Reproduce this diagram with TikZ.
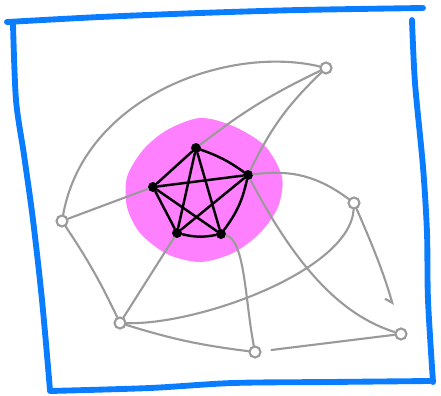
\documentclass[tikz,border=0pt]{standalone}
\usepackage{tikz}
\usetikzlibrary{arrows.meta}

\definecolor{penBlue}{HTML}{0A7CFF}
\definecolor{blobPink}{HTML}{FF80FF}
\definecolor{pencilGray}{HTML}{9A9A9A}

\tikzset{
  frame/.style={penBlue, line width=5pt, line cap=round, line join=round},
  inner/.style={circle, fill=black, inner sep=0pt, minimum size=0.3cm},
  outer/.style={circle, draw=pencilGray, line width=1.8pt, inner sep=0pt, minimum size=0.33cm},
  tie/.style={black, line width=2.1pt, line cap=round},
  wire/.style={pencilGray, line width=1.8pt, line cap=round},
}

\begin{document}
\begin{tikzpicture}[x=0.03cm, y=-0.03cm]
    \useasboundingbox (0,0) rectangle (441,396);

    % frame
    \draw[frame] plot[smooth] coordinates {(7,22) (100,17) (200,13) (300,10) (423,8)};
    \draw[frame] plot[smooth] coordinates {(13,24) (16,100) (24,155) (33,220) (42,300) (50,390)};
    \draw[frame] plot[smooth] coordinates {(412,20) (415,83) (423,167) (427,233) (428,300) (433,382)};
    \draw[frame] plot[smooth] coordinates {(50,391) (150,388) (233,383) (330,382) (430,381)};

    % blob
    \fill[blobPink] plot[smooth cycle] coordinates {(200,118) (233,126) (265,146) (282,177)
      (278,207) (260,233) (233,253) (200,262) (167,254) (140,233) (127,207) (127,177)
      (143,150) (167,130)};

    % inner nodes
    \node[inner] (k1) at (196,148) {};
    \node[inner] (k2) at (248,175) {};
    \node[inner] (k3) at (221,234) {};
    \node[inner] (k4) at (177,233) {};
    \node[inner] (k5) at (153,187) {};

    % outer nodes
    \node[outer] (o1) at (326,68) {};
    \node[outer] (o2) at (62,221) {};
    \node[outer] (o3) at (354,203) {};
    \node[outer] (o4) at (120,323) {};
    \node[outer] (o5) at (255,352) {};
    \node[outer] (o6) at (401,334) {};

    % clique
    \draw[tie] (k1) to[bend left=8] (k2);
    \draw[tie] (k1) -- (k5);
    \draw[tie] (k1) -- (k4);
    \draw[tie] (k1) -- (k3);
    \draw[tie] (k5) -- (k2);
    \draw[tie] (k5) -- (k4);
    \draw[tie] (k5) -- (k3);
    \draw[tie] (k4) to[bend right=12] (k3);
    \draw[tie] (k2) to[bend left=12] (k3);
    \draw[tie] (k2) -- (k4);

    % outer wires
    \draw[wire] (o2) .. controls (85,95) and (230,45) .. (o1);
    \draw[wire] (o1) to[bend right=6] (k1);
    \draw[wire] (o1) to[bend right=10] (k2);
    \draw[wire] (o2) -- (k5);
    \draw[wire] (o2) to[bend left=4] (o4);
    \draw[wire] (o4) -- (k4);
    \draw[wire] (o4) .. controls (200,325) and (350,270) .. (o3);
    \draw[wire] (o3) to[bend right=22] (k2);
    \draw[wire, -{Straight Barb[harpoon, swap, length=5pt]}, shorten >=0.7cm] (o3) to[bend left=4] (o6);
    \draw[wire] (k2) .. controls (295,265) and (340,315) .. (o6);
    \draw[wire, shorten >=0.3cm] (o6) -- (o5);
    \draw[wire] (k3) .. controls (245,240) and (245,300) .. (o5);
    \draw[wire] (o4) to[bend right=5] (o5);
  \end{tikzpicture}
\end{document}
